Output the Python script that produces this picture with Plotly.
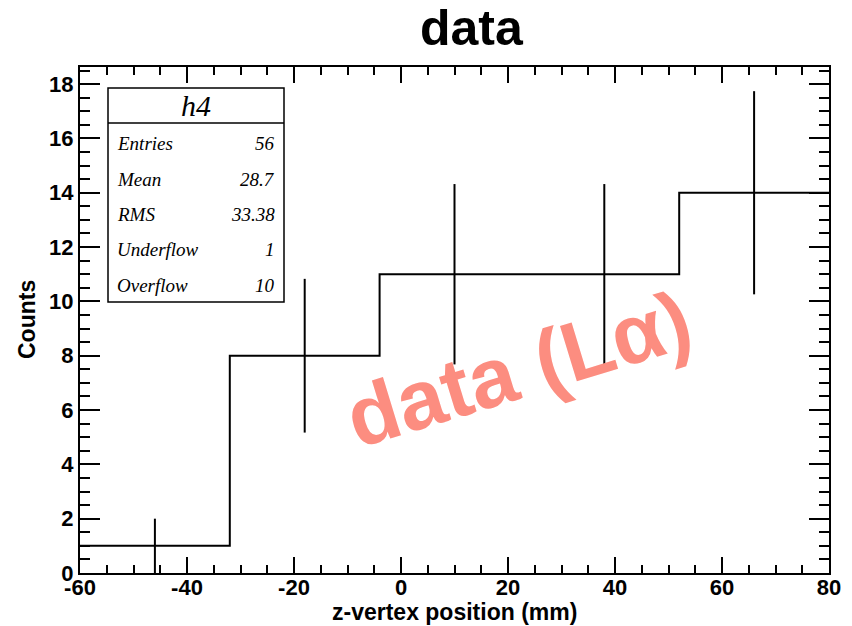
import plotly.graph_objects as go

# Histogram h4: z-vertex position, 5 bins from -60 to 80 mm
bin_edges = [-60, -32, -4, 24, 52, 80]
counts = [1, 8, 11, 11, 14]
bin_centers = [-46, -18, 10, 38, 66]
errors = [1.0, 2.83, 3.32, 3.32, 3.74]

x_tickvals = [-60, -40, -20, 0, 20, 40, 60, 80]
x_ticktext = ["-60", "-40", "-20", "0", "20", "40", "60", "80"]

stat_labels = ["Entries", "Mean", "RMS", "Underflow", "Overflow"]
stat_values = ["56", "28.7", "33.38", "1", "10"]

x_range = [-60, 80]
y_range = [0, 18.63]

W, H = 852, 626
L, R, T, B = 80, 23, 67, 53
PW, PH = W - L - R, H - T - B


def px(x):
    return (x - L) / PW


def py(y):
    return (H - B - y) / PH


fig = go.Figure()

# step outline of the histogram
fig.add_trace(go.Scatter(
    x=bin_edges,
    y=counts + [counts[-1]],
    mode="lines",
    line=dict(color="black", width=2, shape="hv"),
    hoverinfo="skip",
    showlegend=False,
))

# statistical error bars at bin centres
fig.add_trace(go.Scatter(
    x=bin_centers,
    y=counts,
    mode="markers",
    marker=dict(size=1, color="black", opacity=0),
    error_y=dict(type="data", array=errors, visible=True,
                 color="black", thickness=2, width=0),
    showlegend=False,
))

tickfont = dict(family="Liberation Sans, Arial", size=22, color="black", weight="bold")

fig.update_xaxes(
    range=x_range, tickvals=x_tickvals, ticktext=x_ticktext,
    ticks="inside", ticklen=16, tickwidth=1.5, tickcolor="black",
    minor=dict(ticks="inside", ticklen=8, dtick=5, tickwidth=1.5, tickcolor="black"),
    showline=True, linecolor="black", linewidth=2, mirror="allticks",
    showgrid=False, zeroline=False,
    tickfont=tickfont, ticklabelstandoff=-6,
)
fig.update_yaxes(
    range=y_range, dtick=2, tick0=0,
    ticks="inside", ticklen=20, tickwidth=1.5, tickcolor="black",
    minor=dict(ticks="inside", ticklen=10, dtick=0.5, tickwidth=1.5, tickcolor="black"),
    showline=True, linecolor="black", linewidth=2, mirror="allticks",
    showgrid=False, zeroline=False,
    tickfont=tickfont,
)

annotations = [
    dict(text="<b>data</b>", x=px(472), xref="paper", y=py(58), yref="paper",
         showarrow=False, xanchor="center", yanchor="bottom",
         font=dict(family="Liberation Sans, Arial", size=50, color="black")),
    dict(text="<b>z-vertex position (mm)</b>", x=0.5, xref="paper", y=py(612), yref="paper",
         showarrow=False, xanchor="center", yanchor="middle",
         font=dict(family="Liberation Sans, Arial", size=23, color="black")),
    dict(text="<b>Counts</b>", x=px(27), xref="paper", y=py(320), yref="paper",
         showarrow=False, xanchor="center", yanchor="middle", textangle=-90,
         font=dict(family="Liberation Sans, Arial", size=23, color="black")),
    dict(text="<b>data (Lα)</b>", x=px(518), xref="paper", y=py(369), yref="paper",
         showarrow=False, xanchor="center", yanchor="middle", textangle=-17,
         font=dict(family="Liberation Sans, Arial", size=84, color="rgb(252,141,128)")),
    dict(text="<i>h4</i>", x=px(196), xref="paper", y=py(105), yref="paper",
         showarrow=False, xanchor="center", yanchor="middle",
         font=dict(family="Liberation Serif, Times New Roman", size=30, color="black")),
]

row_y = [143, 179, 214, 249, 285]
for lab, val, ry in zip(stat_labels, stat_values, row_y):
    annotations.append(dict(text=f"<i>{lab}</i>", x=px(115), xref="paper", y=py(ry), yref="paper",
                            showarrow=False, xanchor="left", yanchor="middle",
                            font=dict(family="Liberation Serif, Times New Roman", size=19, color="black")))
    annotations.append(dict(text=f"<i>{val}</i>", x=px(277), xref="paper", y=py(ry), yref="paper",
                            showarrow=False, xanchor="right", yanchor="middle",
                            font=dict(family="Liberation Serif, Times New Roman", size=19, color="black")))

shapes = [
    dict(type="rect", xref="paper", yref="paper", x0=px(108), x1=px(284), y0=py(302), y1=py(88),
         line=dict(color="black", width=1.5), fillcolor="white", layer="above"),
    dict(type="line", xref="paper", yref="paper", x0=px(108), x1=px(284), y0=py(123), y1=py(123),
         line=dict(color="black", width=1.5), layer="above"),
]

fig.update_layout(
    width=W, height=H,
    margin=dict(l=L, r=R, t=T, b=B),
    paper_bgcolor="white", plot_bgcolor="white",
    annotations=annotations,
    shapes=shapes,
    showlegend=False,
)

fig.write_html("out.html")
